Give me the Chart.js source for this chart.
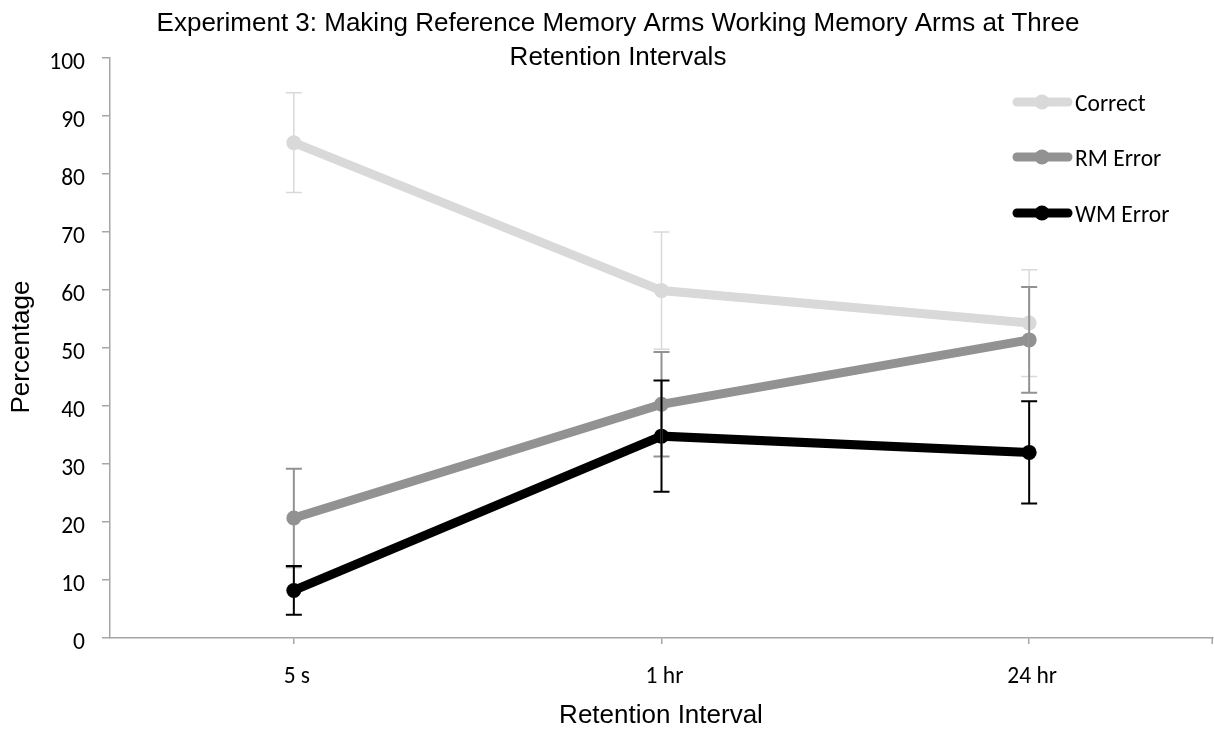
<!DOCTYPE html>
<html>
<head>
<meta charset="utf-8">
<script src="https://cdn.jsdelivr.net/npm/chart.js@4.4.1/dist/chart.umd.min.js"></script>
<style>
  html, body { margin: 0; padding: 0; background: #ffffff; }
  #wrap { width: 1214px; height: 729px; position: relative; }
</style>
</head>
<body>
<div id="wrap"><canvas id="chart" width="1214" height="729"></canvas></div>
<script>
// Retention intervals on the x axis
const intervals = ['5 s', '1 hr', '24 hr'];

// Mean percentages per response type
const correctPct = [85.4, 59.9, 54.3];
const rmErrorPct = [20.7, 40.3, 51.4];
const wmErrorPct = [8.2, 34.8, 32.0];

// Error bar half-widths (±)
const correctErr = [8.6, 10.1, 9.2];
const rmErrorErr = [8.5, 9.0, 9.1];
const wmErrorErr = [4.2, 9.6, 8.8];

const seriesNames = ['Correct', 'RM Error', 'WM Error'];
const seriesColors = ['#d9d9d9', '#929292', '#000000'];
const errWidths = [1.5, 2, 2];

const titleLines = [
  'Experiment 3: Making Reference Memory Arms Working Memory Arms at Three',
  'Retention Intervals'
];
const yTitle = 'Percentage';
const xTitle = 'Retention Interval';

const axisGray = '#a6a6a6';
const sansFont = '26px "Liberation Sans", Arial, sans-serif';
const labelFont = '23.5px Carlito, Lato, sans-serif';

const errors = [correctErr, rmErrorErr, wmErrorErr];

function drawText(ctx, text, x, y, align, rot) {
  ctx.save();
  ctx.translate(x, y);
  if (rot) ctx.rotate(rot);
  ctx.textAlign = align;
  ctx.textBaseline = 'alphabetic';
  ctx.fillText(text, 0, 0);
  ctx.restore();
}

// Vertical error bars with caps, drawn on top of the lines
const errorBars = {
  id: 'errorBars',
  afterDatasetsDraw(chart) {
    const ctx = chart.ctx;
    const y = chart.scales.y;
    chart.data.datasets.forEach((ds, i) => {
      const meta = chart.getDatasetMeta(i);
      ctx.save();
      ctx.strokeStyle = seriesColors[i];
      ctx.lineWidth = errWidths[i];
      meta.data.forEach((pt, j) => {
        const v = ds.data[j];
        const e = errors[i][j];
        const yTop = y.getPixelForValue(v + e);
        const yBot = y.getPixelForValue(v - e);
        const x = pt.x;
        ctx.beginPath();
        ctx.moveTo(x, yTop); ctx.lineTo(x, yBot);
        ctx.moveTo(x - 8, yTop); ctx.lineTo(x + 8, yTop);
        ctx.moveTo(x - 8, yBot); ctx.lineTo(x + 8, yBot);
        ctx.stroke();
      });
      ctx.restore();
    });
  }
};

// Tick labels, title, axis titles and legend
const decorations = {
  id: 'decorations',
  afterDraw(chart) {
    const ctx = chart.ctx;
    const area = chart.chartArea;
    const xs = chart.scales.x;
    const ys = chart.scales.y;
    ctx.save();
    ctx.fillStyle = '#000';

    // end tick at the right of the category axis
    ctx.strokeStyle = axisGray;
    ctx.lineWidth = 1.5;
    ctx.beginPath();
    ctx.moveTo(area.right - 0.75, area.bottom);
    ctx.lineTo(area.right - 0.75, area.bottom + 6);
    ctx.stroke();

    // tick labels
    ctx.font = labelFont;
    ys.ticks.forEach((t, i) => {
      drawText(ctx, String(t.label), 85, ys.getPixelForTick(i) + 11, 'right');
    });
    xs.ticks.forEach((t, i) => {
      drawText(ctx, String(xs.getLabelForValue(t.value)), xs.getPixelForTick(i) + 3, 683, 'center');
    });

    // titles
    ctx.font = sansFont;
    drawText(ctx, titleLines[0], 618, 31, 'center');
    drawText(ctx, titleLines[1], 618, 65, 'center');
    drawText(ctx, xTitle, 661, 723, 'center');
    drawText(ctx, yTitle, 29, 347, 'center', -Math.PI / 2);

    // legend
    const ly = [102, 157, 213];
    ctx.font = labelFont;
    seriesNames.forEach((name, i) => {
      ctx.strokeStyle = seriesColors[i];
      ctx.lineWidth = 9;
      ctx.lineCap = 'round';
      ctx.beginPath();
      ctx.moveTo(1017, ly[i]); ctx.lineTo(1068, ly[i]);
      ctx.stroke();
      ctx.fillStyle = seriesColors[i];
      ctx.beginPath();
      ctx.arc(1042, ly[i], 7.5, 0, Math.PI * 2);
      ctx.fill();
      ctx.fillStyle = '#000';
      drawText(ctx, name, 1075, ly[i] + 8.5, 'left');
    });
    ctx.restore();
  }
};

const values = [correctPct, rmErrorPct, wmErrorPct];

new Chart(document.getElementById('chart'), {
  type: 'line',
  data: {
    labels: intervals,
    datasets: seriesNames.map((name, i) => ({
      label: name,
      data: values[i],
      borderColor: seriesColors[i],
      backgroundColor: seriesColors[i],
      borderWidth: 9,
      pointRadius: 7.5,
      pointBorderWidth: 0,
      pointBackgroundColor: seriesColors[i],
      tension: 0,
      fill: false,
      clip: false,
      order: 3 - i
    }))
  },
  options: {
    responsive: false,
    animation: false,
    events: [],
    layout: { autoPadding: false, padding: { left: 0, right: 1, top: 58, bottom: 0 } },
    plugins: {
      legend: { display: false },
      title: { display: false },
      tooltip: { enabled: false }
    },
    scales: {
      x: {
        type: 'category',
        offset: true,
        grid: {
          offset: false,
          drawOnChartArea: false,
          drawTicks: true,
          tickLength: 6,
          color: axisGray,
          lineWidth: 1.5
        },
        border: { color: axisGray, width: 1.5 },
        ticks: { display: false },
        afterFit(scale) { scale.height = 91; }
      },
      y: {
        min: 0,
        max: 100,
        ticks: { stepSize: 10, display: false },
        grid: {
          drawOnChartArea: false,
          drawTicks: true,
          tickLength: 8,
          color: axisGray,
          lineWidth: 1.5
        },
        border: { color: axisGray, width: 1.5 },
        afterFit(scale) { scale.width = 110; }
      }
    }
  },
  plugins: [errorBars, decorations]
});
</script>
</body>
</html>
